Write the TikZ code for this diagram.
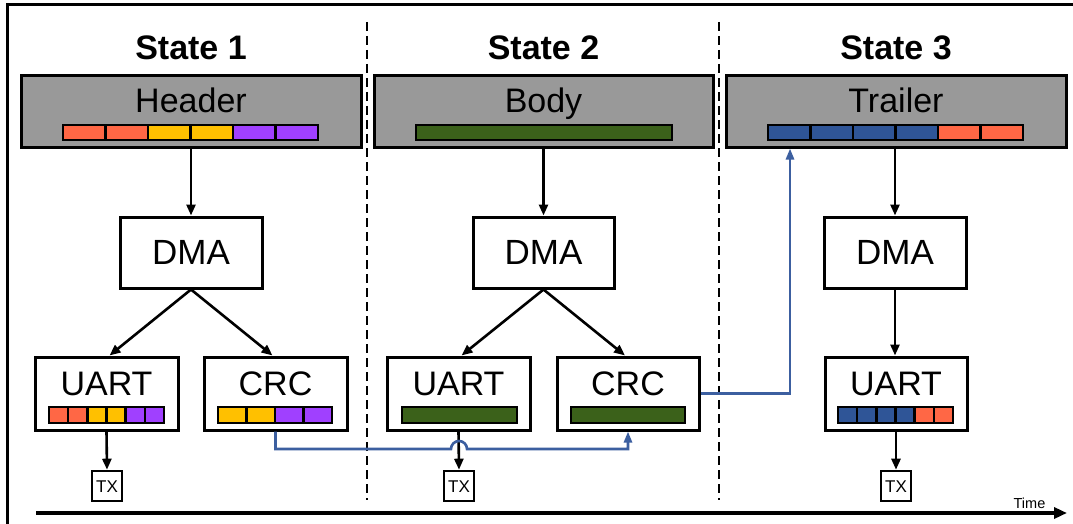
\documentclass[tikz,border=0pt]{standalone}
\usepackage{fontspec}
\setmainfont{Liberation Sans}
\usetikzlibrary{arrows.meta,calc}
\definecolor{hgray}{HTML}{999999}
\definecolor{cor}{HTML}{FF6745}
\definecolor{cye}{HTML}{FFC000}
\definecolor{cpu}{HTML}{A040FF}
\definecolor{cgr}{HTML}{3B611A}
\definecolor{cbl}{HTML}{2F5597}
\definecolor{lbl}{HTML}{3C5FA0}
\newcommand\segbar[5]{%
  \foreach \c [count=\i from 0] in {#5} {%
    \filldraw[fill=\c,line width=2.4pt] ({#1+\i*#3},#2) rectangle ++(#3,#4);}}
\newcommand\fsz[1]{\fontsize{#1}{#1}\selectfont}
\begin{document}
\begin{tikzpicture}[x=1pt,y=-1pt,
  box/.style={draw,line width=3pt,inner sep=0pt,anchor=center},
  mem/.style={box,fill=hgray,minimum width=340pt,minimum height=71pt},
  dmabox/.style={box,fill=white,minimum width=142pt,minimum height=71pt,font=\fsz{35}},
  per/.style={box,fill=white,minimum width=143pt,minimum height=73pt},
  txbox/.style={box,fill=white,line width=2.6pt,minimum width=30pt,minimum height=30pt},
  lbl/.style={anchor=base,inner sep=0pt},
  conn/.style={line width=2.6pt,-{Triangle[length=11pt,width=9pt]}},
  bconn/.style={draw=lbl,line width=2.6pt,-{Triangle[length=11pt,width=8pt]}},
  divider/.style={line width=2.6pt,dash pattern=on 9pt off 5pt}]
\useasboundingbox (0,0) rectangle (1073,524);
\fill[white] (0,0) rectangle (1073,524);
% outer frame
\draw[line width=3pt] (7,524) -- (7,5) -- (1073,5);
% dividers
\draw[divider] (367,22) -- (367,500);
\draw[divider] (719,22) -- (719,500);
% state titles
\node[lbl,font=\bfseries\fsz{34}] (st1) at (191,60) {State 1};
\node[lbl,font=\bfseries\fsz{34}] (st2) at (543.5,60) {State 2};
\node[lbl,font=\bfseries\fsz{34}] (st3) at (896,60) {State 3};
% memory boxes
\node[mem] (hdr1) at (191,111.5) {};
\node[mem,minimum width=339pt] (hdr2) at (543.5,111.5) {};
\node[mem] (hdr3) at (896,111.5) {};
\node[lbl,font=\fsz{34}] (hdr1t) at (191,113) {Header};
\node[lbl,font=\fsz{34}] (hdr2t) at (543.5,113) {Body};
\node[lbl,font=\fsz{34}] (hdr3t) at (896,113) {Trailer};
\segbar{63}{125}{42.5}{15}{cor,cor,cye,cye,cpu,cpu}
\segbar{416}{125}{256}{15}{cgr}
\segbar{768}{125}{42.5}{15}{cbl,cbl,cbl,cbl,cor,cor}
% DMA
\node[dmabox] (dma1) at (191,252.5) {DMA};
\node[dmabox,minimum width=141pt] (dma2) at (543.5,252.5) {DMA};
\node[dmabox] (dma3) at (895,252.5) {DMA};
% peripherals
\node[per] (uart1) at (106.5,393.5) {};
\node[per] (crc1) at (275.5,393.5) {};
\node[per] (uart2) at (458.5,393.5) {};
\node[per,minimum width=142pt] (crc2) at (628,393.5) {};
\node[per,minimum width=142pt] (uart3) at (896,393.5) {};
\node[lbl,font=\fsz{34}] (uart1t) at (106.5,395) {UART};
\node[lbl,font=\fsz{34}] (crc1t) at (275.5,395) {CRC};
\node[lbl,font=\fsz{34}] (uart2t) at (458.5,395) {UART};
\node[lbl,font=\fsz{34}] (crc2t) at (628,395) {CRC};
\node[lbl,font=\fsz{34}] (uart3t) at (896,395) {UART};
\segbar{49}{407}{19.17}{16}{cor,cor,cye,cye,cpu,cpu}
\segbar{218}{407}{28.5}{16}{cye,cye,cpu,cpu}
\segbar{402}{407}{115}{16}{cgr}
\segbar{571}{407}{114}{16}{cgr}
\segbar{838}{407}{19.17}{16}{cbl,cbl,cbl,cbl,cor,cor}
% TX
\node[txbox] (tx1) at (107,486) {};
\node[txbox] (tx2) at (459,486) {};
\node[txbox] (tx3) at (896,486) {};
\node[lbl,font=\fsz{17}] (tx1t) at (107,492.5) {TX};
\node[lbl,font=\fsz{17}] (tx2t) at (459,492.5) {TX};
\node[lbl,font=\fsz{17}] (tx3t) at (896,492.5) {TX};
% black connectors
\draw[conn] (hdr1.south) -- (dma1.north);
\draw[conn] (hdr2.south) -- (dma2.north);
\draw[conn] (hdr3.south -| dma3.north) -- (dma3.north);
\draw[conn] (dma1.south) -- ($(uart1.north)+(3,0)$);
\draw[conn] (dma1.south) -- ($(crc1.north)+(-3,0)$);
\draw[conn] (dma2.south) -- ($(uart2.north)+(3,0)$);
\draw[conn] (dma2.south) -- ($(crc2.north)+(-3,0)$);
\draw[conn] (dma3.south) -- (uart3.north -| dma3.south);
\draw[conn] (uart1.south) -- (tx1.north);
\draw[conn] (uart2.south) -- (tx2.north);
\draw[conn] (uart3.south) -- (tx3.north);
% blue connectors
\coordinate (bus) at (0,449);
\draw[bconn] (crc1.south) -- (crc1.south |- bus) -- ($(tx2.north |- bus)+(-8,0)$)
  arc[start angle=180,end angle=0,radius=8pt] -- (crc2.south |- bus) -- (crc2.south);
\draw[bconn] (crc2.east) -| ($(hdr3.south)+(-106,0)$);
% time axis
\coordinate (t0) at (36,513);
\coordinate (t1) at (1067,513);
\draw[line width=3.4pt,-{Triangle[length=13pt,width=11pt]}] (t0) -- (t1);
\node[lbl,font=\fsz{14.5}] (time) at (1029.5,508) {Time};
\end{tikzpicture}
\end{document}
